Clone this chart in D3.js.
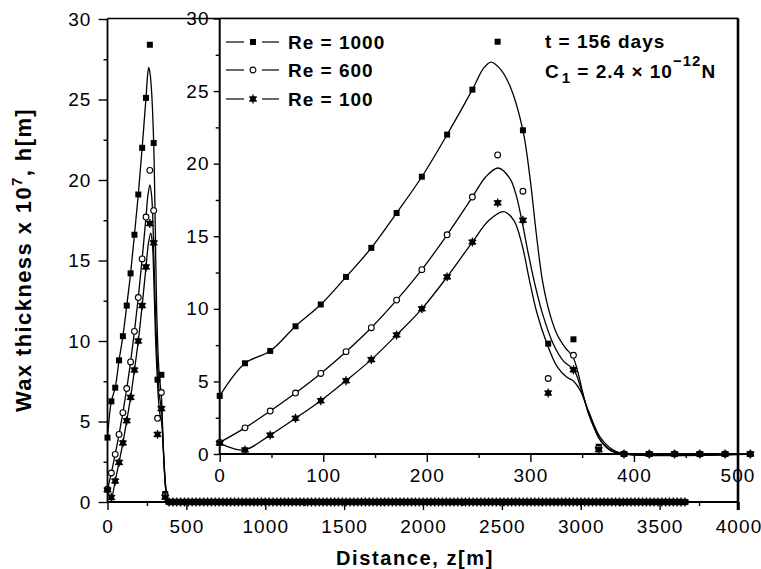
<!DOCTYPE html>
<html>
<head>
<meta charset="utf-8">
<script src="https://cdn.jsdelivr.net/npm/d3@7"></script>
<style>
    body { margin: 0; background: #fff; }
    text { font-family: "Liberation Sans", Arial, sans-serif; fill: #000; }
    .tick text { font-size: 19px; letter-spacing: 1.1px; fill: #000; }
    .domain { display: none; }
    .tick line { stroke: #000; stroke-width: 1.4; }
</style>
</head>
<body>
<svg id="chart" width="761" height="569"></svg>
<script>
// ---- data ----
// distance of the sampled points, m
var zPoints = [0, 24.4, 48.8, 73.2, 97.6, 122, 146.4, 170.8, 195.2, 219.6, 244,
    268.4, 292.8, 317.2, 341.6, 366, 390.4, 414.8, 439.2, 463.6, 488, 512.4];
var re1000Pts = [4.0, 6.25, 7.1, 8.8, 10.3, 12.2, 14.2, 16.6, 19.1, 22.0, 25.1,
    28.4, 22.3, 7.6, 7.9, 0.5, 0, 0, 0, 0, 0, 0];
var re600Pts = [0.8, 1.8, 2.96, 4.2, 5.55, 7.05, 8.7, 10.6, 12.7, 15.1, 17.7,
    20.6, 18.1, 5.2, 6.8, 0.4, 0, 0, 0, 0, 0, 0];
var re100Pts = [0.75, 0.28, 1.3, 2.46, 3.67, 5.05, 6.5, 8.2, 10.0, 12.2, 14.6,
    17.3, 16.1, 4.2, 5.8, 0.3, 0, 0, 0, 0, 0, 0];
// the points keep going at zero along the long axis up to here
var zeroTailFrom = 536.8, zeroTailTo = 3680, zeroTailStep = 24.4;

// fitted curves
var re1000CurveZ = [0, 24.4, 48.8, 73.2, 97.6, 122, 146.4, 170.8, 195.2, 219.6, 244, 255, 262, 270,
    280, 292.8, 300, 306, 312, 319, 326, 334, 341, 346, 351, 356, 361, 367, 374, 382, 392, 512];
var re1000CurveH = [4.0, 6.25, 7.1, 8.8, 10.3, 12.2, 14.2, 16.6, 19.1, 22.0, 25.1, 26.6, 27.0, 26.6,
    25.4, 22.3, 18.8, 15.0, 11.8, 9.6, 8.2, 7.3, 6.7, 5.6, 4.1, 2.8, 1.9, 1.0, 0.45, 0.1, 0, 0];
var re600CurveZ = [0, 24.4, 48.8, 73.2, 97.6, 122, 146.4, 170.8, 195.2, 219.6, 244, 257, 269,
    280, 286, 292, 298, 304, 312, 322, 332, 342, 348, 354, 360, 367, 376, 390, 512];
var re600CurveH = [0.8, 1.8, 2.96, 4.2, 5.55, 7.05, 8.7, 10.6, 12.7, 15.1, 17.7, 19.1, 19.7,
    19.0, 17.9, 16.0, 13.8, 11.8, 9.6, 7.6, 6.4, 5.8, 4.7, 3.3, 2.1, 1.0, 0.3, 0, 0];
var re100CurveZ = [0, 12, 24.4, 48.8, 73.2, 97.6, 122, 146.4, 170.8, 195.2, 219.6, 244, 260, 274,
    284, 292, 299, 306, 316, 326, 335, 342, 348, 357, 367, 380, 392, 512];
var re100CurveH = [0.75, 0.4, 0.28, 1.3, 2.46, 3.67, 5.05, 6.5, 8.2, 10.0, 12.2, 14.6, 16.1, 16.7,
    16.1, 14.4, 12.0, 9.8, 7.6, 6.0, 5.3, 5.0, 4.4, 2.8, 1.2, 0.27, 0, 0];

var legendLabels = ['Re = 1000', 'Re = 600', 'Re = 100'];
var mainXTicks = [0, 500, 1000, 1500, 2000, 2500, 3000, 3500, 4000];
var mainYTicks = [0, 5, 10, 15, 20, 25, 30];
var insetXTicks = [0, 100, 200, 300, 400, 500];
var insetYTicks = [0, 5, 10, 15, 20, 25, 30];

// ---- drawing ----
var svg = d3.select('#chart');

var xMain = d3.scaleLinear().domain([0, 4000]).range([107.5, 738.5]);
var yMain = d3.scaleLinear().domain([0, 30]).range([502, 19]);
var xIn = d3.scaleLinear().domain([0, 500]).range([219.7, 737.5]);
var yIn = d3.scaleLinear().domain([0, 30]).range([454, 18.5]);

var series = [
    {pts: re1000Pts, cz: re1000CurveZ, ch: re1000CurveH, shape: 'square'},
    {pts: re600Pts, cz: re600CurveZ, ch: re600CurveH, shape: 'circle'},
    {pts: re100Pts, cz: re100CurveZ, ch: re100CurveH, shape: 'star'}
];

function marker(g, shape, cx, cy) {
    if (shape === 'square') {
        g.append('rect').attr('x', cx - 3).attr('y', cy - 3)
            .attr('width', 6).attr('height', 6).attr('fill', '#000');
    } else if (shape === 'circle') {
        g.append('circle').attr('cx', cx).attr('cy', cy).attr('r', 2.9)
            .attr('fill', '#fff').attr('stroke', '#000').attr('stroke-width', 1.1);
    } else {
        g.append('rect').attr('x', cx - 2.8).attr('y', cy - 2.8)
            .attr('width', 5.6).attr('height', 5.6).attr('fill', '#000');
        g.append('path').attr('transform', 'translate(' + cx + ',' + cy + ')')
            .attr('d', d3.symbol().type(d3.symbolAsterisk).size(55)())
            .attr('stroke', '#000').attr('stroke-width', 1.3).attr('fill', 'none');
    }
}

function drawSeries(g, x, y, withTail) {
    var line = d3.line().curve(d3.curveCatmullRom.alpha(0.5))
        .x(function (d) { return x(d[0]); })
        .y(function (d) { return y(d[1]); });
    series.forEach(function (s) {
        g.append('path')
            .datum(d3.zip(s.cz, s.ch))
            .attr('d', line)
            .attr('fill', 'none').attr('stroke', '#000').attr('stroke-width', 1.3);
    });
    series.forEach(function (s) {
        var mg = g.append('g');
        zPoints.forEach(function (z, i) {
            marker(mg, s.shape, x(z), y(s.pts[i]));
        });
        if (withTail) {
            d3.range(zeroTailFrom, zeroTailTo + 1, zeroTailStep).forEach(function (z) {
                marker(mg, s.shape, x(z), y(0));
            });
        }
    });
}

function styleTicks(g) {
    g.selectAll('.tick text').attr('font-size', null).attr('font-family', null);
}

// main plot axes
var mainG = svg.append('g');
mainG.append('g').attr('transform', 'translate(0,502)')
    .call(d3.axisBottom(xMain).tickValues(d3.range(250, 4000, 500)).tickSize(4).tickFormat(''));
mainG.append('g').attr('transform', 'translate(0,502)')
    .call(d3.axisBottom(xMain).tickValues(mainXTicks).tickSize(8).tickPadding(10).tickFormat(d3.format('d')))
    .call(styleTicks);
mainG.append('g').attr('transform', 'translate(107.5,0)')
    .call(d3.axisLeft(yMain).tickValues(d3.range(2.5, 30, 5)).tickSize(4).tickFormat(''));
mainG.append('g').attr('transform', 'translate(107.5,0)')
    .call(d3.axisLeft(yMain).tickValues(mainYTicks).tickSize(9).tickPadding(7).tickFormat(d3.format('d')))
    .call(styleTicks);

mainG.append('line').attr('x1', 107.5).attr('x2', 738.5).attr('y1', 502).attr('y2', 502)
    .attr('stroke', '#000').attr('stroke-width', 1.8);
mainG.append('line').attr('x1', 107.5).attr('x2', 107.5).attr('y1', 18.5).attr('y2', 502)
    .attr('stroke', '#000').attr('stroke-width', 1.8);
mainG.append('line').attr('x1', 107.5).attr('x2', 738.5).attr('y1', 18.5).attr('y2', 18.5)
    .attr('stroke', '#000').attr('stroke-width', 1.4);

drawSeries(mainG.append('g'), xMain, yMain, true);

// inset
var insG = svg.append('g');
insG.append('rect').attr('x', 219.7).attr('y', 18.5)
    .attr('width', 737.5 - 219.7).attr('height', 454 - 18.5).attr('fill', '#fff');
insG.append('g').attr('transform', 'translate(0,454)')
    .call(d3.axisBottom(xIn).tickValues(d3.range(50, 500, 100)).tickSize(4).tickFormat(''));
insG.append('g').attr('transform', 'translate(0,454)')
    .call(d3.axisBottom(xIn).tickValues(insetXTicks).tickSize(8).tickPadding(7).tickFormat(d3.format('d')))
    .call(styleTicks);
insG.append('g').attr('transform', 'translate(219.7,0)')
    .call(d3.axisLeft(yIn).tickValues(d3.range(2.5, 30, 5)).tickSize(4).tickFormat(''));
insG.append('g').attr('transform', 'translate(219.7,0)')
    .call(d3.axisLeft(yIn).tickValues(insetYTicks).tickSize(6).tickPadding(4).tickFormat(d3.format('d')))
    .call(styleTicks);
insG.append('line').attr('x1', 219.7).attr('x2', 737.5).attr('y1', 454).attr('y2', 454)
    .attr('stroke', '#000').attr('stroke-width', 2);
insG.append('line').attr('x1', 219.7).attr('x2', 219.7).attr('y1', 18.5).attr('y2', 454)
    .attr('stroke', '#000').attr('stroke-width', 2);
insG.append('line').attr('x1', 219.7).attr('x2', 738).attr('y1', 18.5).attr('y2', 18.5)
    .attr('stroke', '#000').attr('stroke-width', 1.4);

drawSeries(insG.append('g'), xIn, yIn, false);

// right border, shared by both frames
svg.append('line').attr('x1', 738).attr('x2', 738).attr('y1', 18.5).attr('y2', 510)
    .attr('stroke', '#000').attr('stroke-width', 2.6);

// legend
var legendRows = [42, 70, 99];
series.forEach(function (s, i) {
    var lg = svg.append('g');
    var ly = legendRows[i];
    lg.append('line').attr('x1', 226).attr('x2', 244).attr('y1', ly).attr('y2', ly)
        .attr('stroke', '#000').attr('stroke-width', 1.2);
    lg.append('line').attr('x1', 262).attr('x2', 279).attr('y1', ly).attr('y2', ly)
        .attr('stroke', '#000').attr('stroke-width', 1.2);
    marker(lg, s.shape, 253, ly);
    lg.append('text').attr('x', 288).attr('y', ly).attr('dy', '0.36em')
        .attr('font-size', 19).attr('font-weight', 'bold').attr('letter-spacing', 1)
        .text(legendLabels[i]);
});

// annotation
svg.append('text').attr('x', 545).attr('y', 48)
    .attr('font-size', 19).attr('font-weight', 'bold').attr('letter-spacing', 1)
    .text('t = 156 days');
var c1 = svg.append('text').attr('x', 545).attr('y', 78)
    .attr('font-size', 19).attr('font-weight', 'bold').attr('letter-spacing', 1);
c1.append('tspan').text('C');
c1.append('tspan').attr('dy', 5).attr('dx', 2).attr('font-size', 15).text('1');
c1.append('tspan').attr('dy', -5).text(' = 2.4 \u00d7 10');
c1.append('tspan').attr('dy', -12).attr('font-size', 15).text('\u221212');
c1.append('tspan').attr('dy', 12).text('N');

// axis titles
svg.append('text').attr('x', 415).attr('y', 565).attr('text-anchor', 'middle')
    .attr('font-size', 20).attr('font-weight', 'bold').attr('letter-spacing', 1.6)
    .text('Distance, z[m]');
var yt = svg.append('text').attr('transform', 'translate(31,260) rotate(-90)')
    .attr('text-anchor', 'middle').attr('font-size', 22).attr('font-weight', 'bold')
    .attr('letter-spacing', 1.4);
yt.append('tspan').text('Wax thickness x 10');
yt.append('tspan').attr('dy', -9).attr('font-size', 15).text('7');
yt.append('tspan').attr('dy', 9).text(', h[m]');
</script>
</body>
</html>
